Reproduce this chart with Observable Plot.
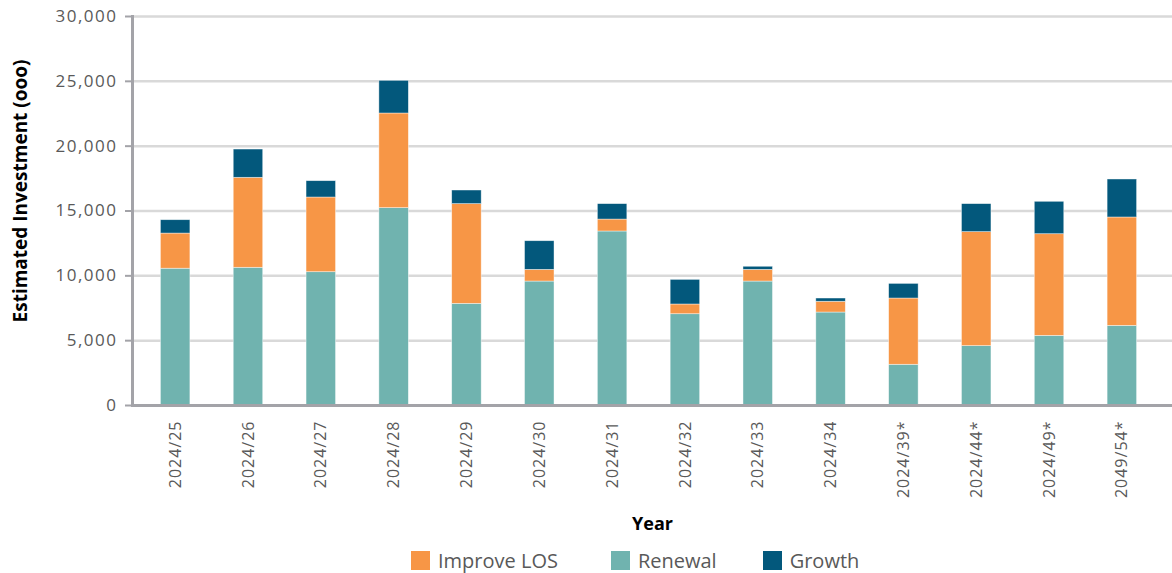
<!DOCTYPE html>
<html>
<head>
<meta charset="utf-8">
<script src="https://cdn.jsdelivr.net/npm/d3@7"></script>
<script src="https://cdn.jsdelivr.net/npm/@observablehq/plot@0.6"></script>
<style>
  body { margin: 0; background: #fff; font-family: "Open Sans", sans-serif; position: relative; width: 1172px; height: 573px; overflow: hidden; }
  #chart svg { display: block; }
  g[aria-label="y-axis tick label"] text { font-size: 17px; letter-spacing: 1.5px; }
  g[aria-label="x-axis tick label"] text { font-size: 16px; letter-spacing: 1px; }
  g[aria-label="x-axis label"] text { font-weight: bold; font-size: 18px; fill: #000; }
  #legend { position: absolute; left: 411px; top: 551px; height: 19px; display: flex; align-items: center; font-size: 20px; line-height: 19px; color: #595959; }
  #legend .item { display: flex; align-items: center; }
  #legend .sw { width: 19px; height: 19px; margin-right: 8px; flex: none; }
</style>
</head>
<body>
<div id="chart"></div>
<div id="legend"></div>
<script>
const years = ["2024/25","2024/26","2024/27","2024/28","2024/29","2024/30","2024/31","2024/32","2024/33","2024/34","2024/39*","2024/44*","2024/49*","2049/54*"];
const renewal = [10550,10620,10280,15220,7840,9560,13420,7040,9560,7170,3140,4580,5370,6140];
const improveLOS = [2710,6940,5760,7300,7690,900,920,750,900,830,5110,8790,7840,8360];
const growth = [1030,2180,1260,2520,1050,2210,1190,1900,240,250,1130,2160,2500,2930];
const stackOrder = ["Renewal","Improve LOS","Growth"];
const legendOrder = ["Improve LOS","Renewal","Growth"];
const seriesColors = {"Improve LOS": "#f79646", "Renewal": "#70b3af", "Growth": "#03587c"};
const yTicks = [0,5000,10000,15000,20000,25000,30000];
const yTitle = "Estimated Investment (ooo)";

const valuesBySeries = {"Renewal": renewal, "Improve LOS": improveLOS, "Growth": growth};
const data = stackOrder.flatMap(s => years.map((y, i) => ({year: y, series: s, value: valuesBySeries[s][i]})));

const axisGray = "#a3a3a8";
const chart = Plot.plot({
  width: 1172,
  height: 540,
  marginLeft: 132,
  marginRight: 0,
  marginTop: 16,
  marginBottom: 135,
  style: {fontFamily: "Open Sans", fontSize: "16px", color: "#595959", background: "white"},
  x: {domain: years, paddingInner: 0.595, paddingOuter: 0.39, insetRight: 7, round: false},
  y: {domain: [0, 30000]},
  color: {domain: stackOrder, range: stackOrder.map(s => seriesColors[s])},
  marks: [
    Plot.gridY(yTicks.slice(1), {stroke: "#d9d9d9", strokeOpacity: 1, strokeWidth: 2.5}),
    Plot.barY(data, {x: "year", y: "value", fill: "series", order: stackOrder, stroke: "#ffffff", strokeOpacity: 0.6, strokeWidth: 0.7}),
    Plot.ruleY([0], {stroke: axisGray, strokeWidth: 3}),
    Plot.frame({anchor: "left", stroke: axisGray, strokeWidth: 3}),
    Plot.axisY(yTicks, {tickFormat: d3.format(","), tickSize: 7, tickPadding: 8, stroke: axisGray, strokeWidth: 2, fill: "#595959", label: null}),
    Plot.text([yTitle], {frameAnchor: "left", rotate: -90, dx: -112, dy: -20, text: d => d, fontWeight: "bold", fontSize: 19, fill: "#000", textAnchor: "middle"}),
    Plot.axisX({tickRotate: -90, tickSize: 0, tickPadding: 15, fill: "#595959",
      label: "Year", labelAnchor: "center", labelOffset: 124, labelArrow: "none"})
  ]
});
document.getElementById("chart").appendChild(chart);

const legend = document.getElementById("legend");
const gaps = [53, 46, 0];
legendOrder.forEach((s, i) => {
  const item = document.createElement("div");
  item.className = "item";
  item.style.marginRight = gaps[i] + "px";
  const sw = document.createElement("span");
  sw.className = "sw";
  sw.style.background = seriesColors[s];
  const t = document.createElement("span");
  t.textContent = s;
  item.appendChild(sw);
  item.appendChild(t);
  legend.appendChild(item);
});
</script>
</body>
</html>
